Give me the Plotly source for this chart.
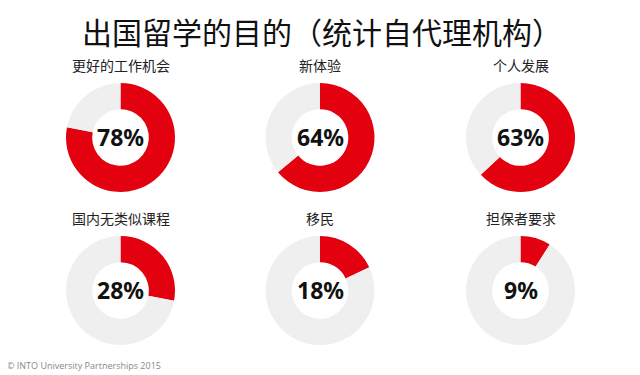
import plotly.graph_objects as go

title_text = "出国留学的目的（统计自代理机构）"
categories = ["更好的工作机会", "新体验", "个人发展", "国内无类似课程", "移民", "担保者要求"]
percentages = [78, 64, 63, 28, 18, 9]
footer_text = "© INTO University Partnerships 2015"

# the page body has an 8px default margin; lay out in window pixels and compensate
OFF = 8
W, H = 640 - OFF, 375 - OFF
RED = "#E3000F"
GREY = "#EFEFEF"

centers_x = [120.5, 320, 520.5]
centers_y = [137.5, 290.5]
label_y = [65, 218]
R = 54.5


def px(x):
    return (x - OFF) / W


def py(y):
    return (H - (y - OFF)) / H


fig = go.Figure()
annotations = []
for i, (cat, pct) in enumerate(zip(categories, percentages)):
    row, col = divmod(i, 3)
    cx, cy = centers_x[col], centers_y[row]
    fig.add_trace(go.Pie(
        values=[pct, 100 - pct],
        marker=dict(colors=[RED, GREY], line=dict(width=0)),
        hole=0.52,
        sort=False,
        direction="clockwise",
        rotation=0,
        textinfo="none",
        hoverinfo="none",
        showlegend=False,
        domain=dict(x=[px(cx - R), px(cx + R)],
                    y=[py(cy + R), py(cy - R)]),
    ))
    annotations.append(dict(
        x=px(cx), y=py(cy - 1), xref="paper", yref="paper",
        text=f"<b>{pct}%</b>", showarrow=False,
        xanchor="center", yanchor="middle",
        font=dict(family="Noto Sans, DejaVu Sans", size=23, color="#111111"),
    ))
    annotations.append(dict(
        x=px(cx), y=py(label_y[row]), xref="paper", yref="paper",
        text=cat, showarrow=False,
        xanchor="center", yanchor="middle",
        font=dict(family="Noto Sans CJK SC", size=14, color="#222222"),
    ))

annotations.append(dict(
    x=px(322), y=py(31), xref="paper", yref="paper",
    text=title_text, showarrow=False, xanchor="center", yanchor="middle",
    font=dict(family="Noto Sans CJK SC", size=30, color="#111111"),
))
annotations.append(dict(
    x=px(5), y=py(365), xref="paper", yref="paper",
    text=footer_text, showarrow=False, xanchor="left", yanchor="middle",
    font=dict(family="Open Sans, Noto Sans", size=9, color="#888888"),
))

fig.update_layout(
    width=W, height=H,
    margin=dict(l=0, r=0, t=0, b=0),
    paper_bgcolor="white", plot_bgcolor="white",
    annotations=annotations,
)

fig.write_html("out.html")
